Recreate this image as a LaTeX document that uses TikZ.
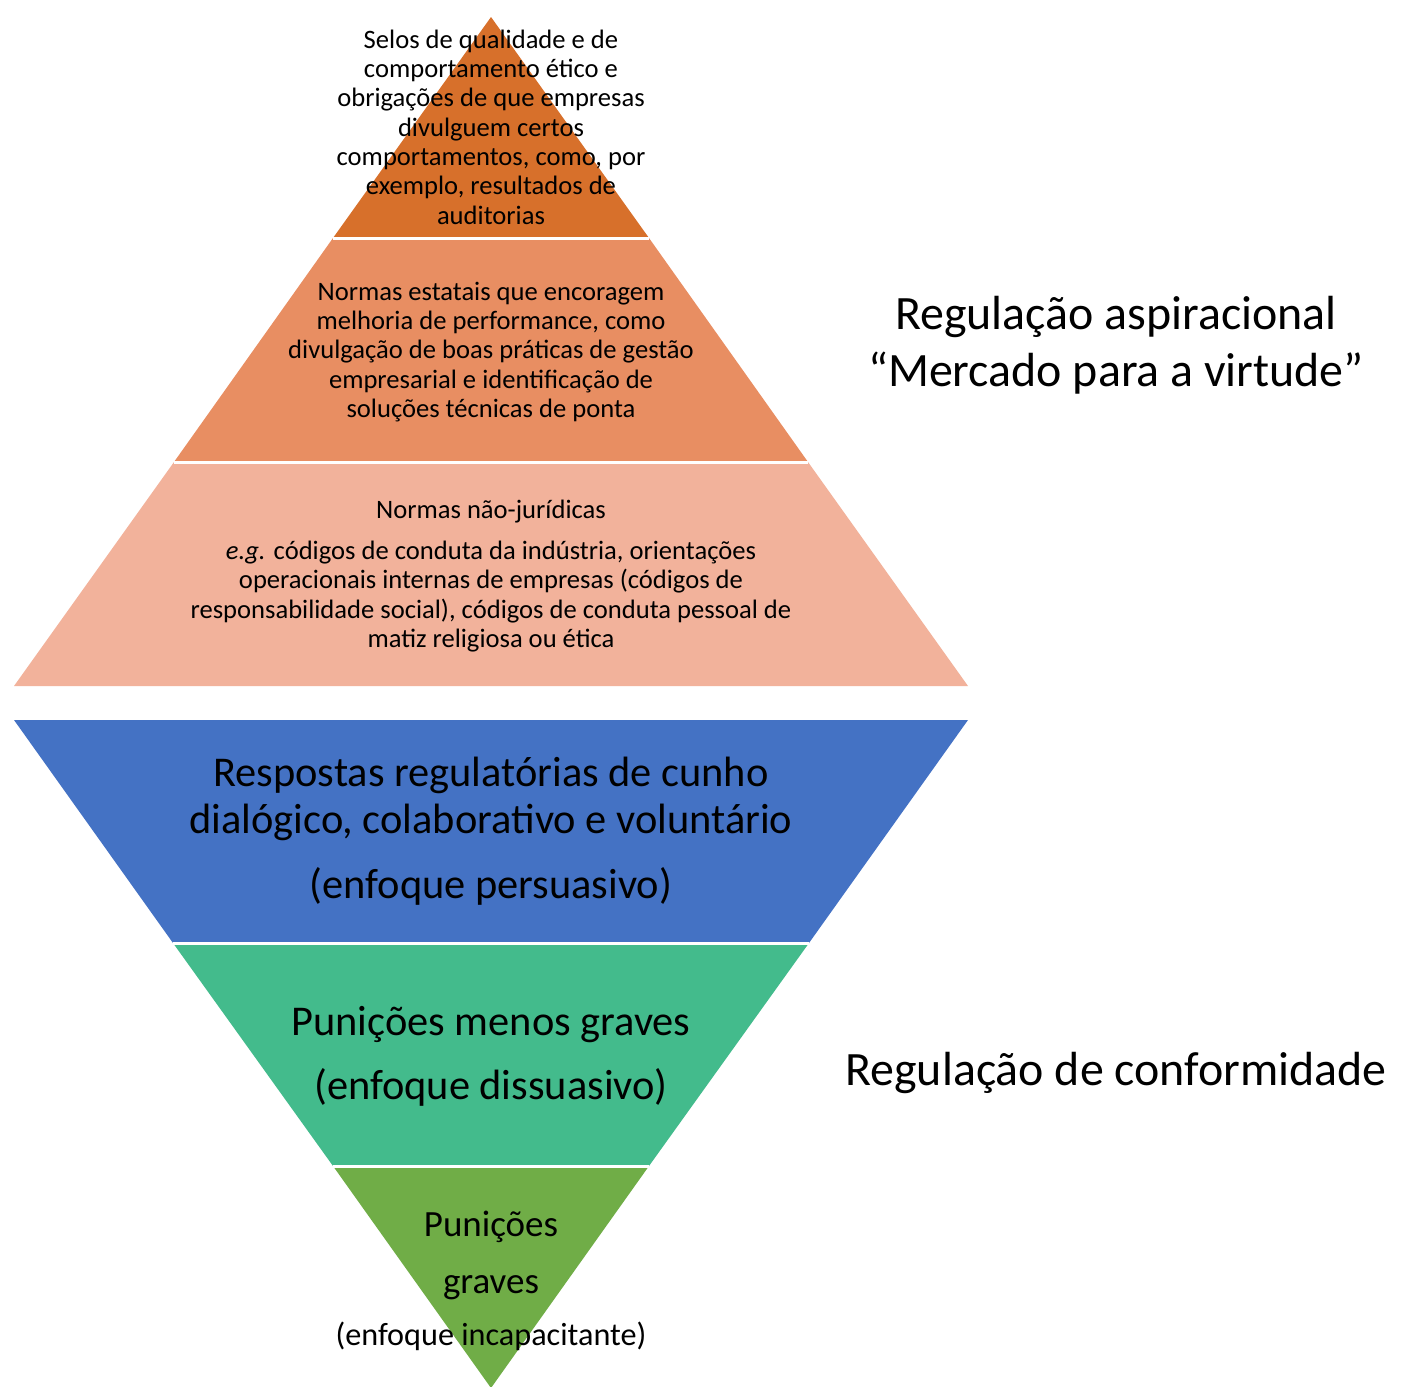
\documentclass[tikz,border=0pt]{standalone}
\usepackage{fontspec}
\setmainfont{Carlito}
\definecolor{cA}{RGB}{215,112,43}
\definecolor{cB}{RGB}{232,142,98}
\definecolor{cC}{RGB}{242,178,155}
\definecolor{cD}{RGB}{68,114,196}
\definecolor{cE}{RGB}{67,187,140}
\definecolor{cF}{RGB}{112,173,71}
\tikzset{
  band/.style={draw=none},
  sep/.style={draw=white,line width=3pt},
  small/.style={font=\fontsize{26.6}{29.3}\selectfont,align=center,inner sep=0pt},
  big/.style={font=\fontsize{42.4}{47}\selectfont,align=center,inner sep=0pt},
  side/.style={font=\fontsize{47.9}{57}\selectfont,align=center,inner sep=0pt}
}
\begin{document}
\begin{tikzpicture}[x=1pt,y=-1pt]
\useasboundingbox (0,0) rectangle (1417,1387);
% upper pyramid
\coordinate (apex) at (491,17);
\coordinate (a1l) at (333,238); \coordinate (a1r) at (649,238);
\coordinate (a2l) at (174,462); \coordinate (a2r) at (808,462);
\coordinate (a3l) at (14,686); \coordinate (a3r) at (968,686);
\fill[cA] (apex) -- (a1r) -- (a1l) -- cycle;
\fill[cB] (a1l) -- (a1r) -- (a2r) -- (a2l) -- cycle;
\fill[cC] (a2l) -- (a2r) -- (a3r) -- (a3l) -- cycle;
\draw[sep] (a1l) -- (a1r);
\draw[sep] (a2l) -- (a2r);
% lower pyramid
\coordinate (b0l) at (14,720); \coordinate (b0r) at (968,720);
\coordinate (b1l) at (173,943); \coordinate (b1r) at (809,943);
\coordinate (b2l) at (333,1166); \coordinate (b2r) at (649,1166);
\coordinate (bapex) at (491,1388);
\fill[cD] (b0l) -- (b0r) -- (b1r) -- (b1l) -- cycle;
\fill[cE] (b1l) -- (b1r) -- (b2r) -- (b2l) -- cycle;
\fill[cF] (b2l) -- (b2r) -- (bapex) -- cycle;
\draw[sep] (b1l) -- (b1r);
\draw[sep] (b2l) -- (b2r);
% texts
\node[small] (t1) at (491,127) {Selos de qualidade e de\\comportamento ético e\\obrigações de que empresas\\divulguem certos\\comportamentos, como, por\\exemplo, resultados de\\auditorias};
\node[small] (t2) at (491,352) {Normas estatais que encoragem\\melhoria de performance, como\\divulgação de boas práticas de gestão\\empresarial e identificação de\\soluções técnicas de ponta};
\node[small] (t3) at (491,576) {Normas não-jurídicas\\[11.7pt]\textit{e.g.} códigos de conduta da indústria, orientações\\operacionais internas de empresas (códigos de\\responsabilidade social), códigos de conduta pessoal de\\matiz religiosa ou ética};
\node[big] (t4) at (491,831) {Respostas regulatórias de cunho\\dialógico, colaborativo e voluntário\\[18pt](enfoque persuasivo)};
\node[big] (t5) at (491,1056) {Punições menos graves\\[17pt](enfoque dissuasivo)};
\node[font=\fontsize{37}{47}\selectfont,align=center,inner sep=0pt] (t6) at (491,1255) {Punições\\[10pt]graves};
\node[font=\fontsize{32.2}{38}\selectfont,inner sep=0pt] (t7) at (491,1336) {(enfoque incapacitante)};
\node[side] (r1) at (1116,345) {Regulação aspiracional\\“Mercado para a virtude”};
\node[side] (r2) at (1116,1073) {Regulação de conformidade};
\end{tikzpicture}
\end{document}
